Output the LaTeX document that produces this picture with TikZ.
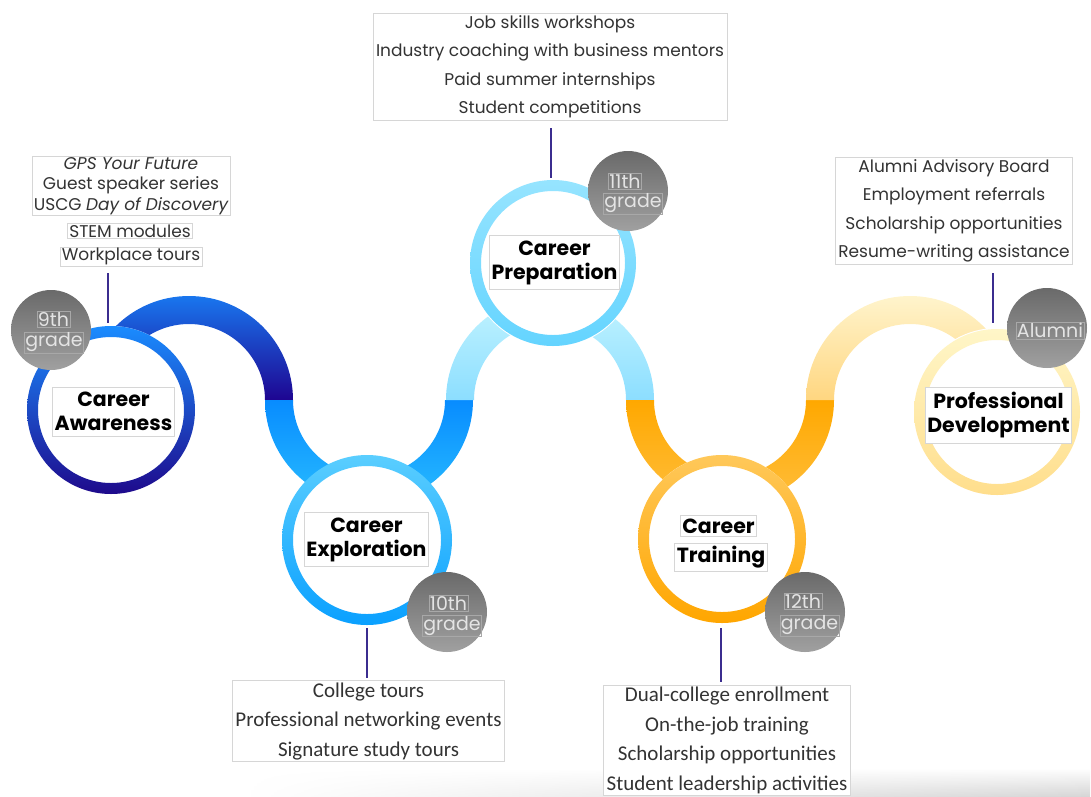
\documentclass[tikz,border=0pt]{standalone}
\usepackage{fontspec}
\setmainfont{Poppins}
\newfontfamily\listfont{Carlito}
\usetikzlibrary{fadings}
\definecolor{boxgray}{HTML}{D6D6D6}
\definecolor{conncol}{HTML}{3B2D8F}
\definecolor{badgetop}{HTML}{6A6A6A}
\definecolor{badgebot}{HTML}{A0A0A0}
\definecolor{badgetxt}{HTML}{E4E4E4}
\definecolor{badgebox}{HTML}{A8A8A8}
\definecolor{txt}{HTML}{333333}
\tikzfading[name=shadowfade, left color=transparent!100, right color=transparent!0]
\begin{document}
\begin{tikzpicture}[x=1pt,y=-1pt,
  title/.style={draw=boxgray, line width=0.7pt, fill=white, align=center,
    inner xsep=2pt, inner ysep=5pt, text=black,
    font=\bfseries\fontsize{20.5}{24}\selectfont},
  listbox/.style={draw=boxgray, line width=0.7pt, fill=white, align=center,
    inner xsep=3pt, inner ysep=2pt, text=txt},
  toplist/.style={listbox, font=\fontsize{17}{28.5}\selectfont},
  botlist/.style={listbox, font=\listfont\fontsize{21}{29.5}\selectfont},
  smalllist/.style={listbox, inner ysep=1pt, inner xsep=2pt, font=\fontsize{17}{20.5}\selectfont},
  badge/.style={circle, minimum size=80pt, inner sep=0pt, top color=badgetop, bottom color=badgebot},
  badgetext/.style={draw=badgebox, line width=0.6pt, inner xsep=1pt, inner ysep=1pt,
    text=badgetxt, font=\fontsize{19}{20}\selectfont},
  conn/.style={draw=conncol, line width=2.5pt}
]
\useasboundingbox (0,0) rectangle (1091,796);
% faint shadow at bottom
\shade[top color=white, bottom color=black!16, path fading=shadowfade] (240,768) rectangle (1091,796);

% ---------- bands ----------
% A (up) centre 189
\shade[top color={rgb,255:red,25;green,118;blue,238}, bottom color={rgb,255:red,30;green,5;blue,145}]
  (85,400) arc[start angle=180, end angle=360, radius=104] -- (265,400)
  arc[start angle=360, end angle=180, radius=76] -- cycle;
% B (down) centre 369
\shade[top color={rgb,255:red,8;green,140;blue,255}, bottom color={rgb,255:red,40;green,188;blue,255}]
  (265,400) arc[start angle=180, end angle=0, radius=104] -- (445,400)
  arc[start angle=0, end angle=180, radius=76] -- cycle;
% C (up) centre 550
\shade[top color={rgb,255:red,195;green,244;blue,255}, bottom color={rgb,255:red,140;green,222;blue,255}]
  (446,400) arc[start angle=180, end angle=360, radius=104] -- (626,400)
  arc[start angle=360, end angle=180, radius=76] -- cycle;
% D (down) centre 730
\shade[top color={rgb,255:red,255;green,168;blue,0}, bottom color={rgb,255:red,255;green,190;blue,60}]
  (626,400) arc[start angle=180, end angle=0, radius=104] -- (806,400)
  arc[start angle=0, end angle=180, radius=76] -- cycle;
% E (up) centre 910
\shade[top color={rgb,255:red,255;green,244;blue,204}, bottom color={rgb,255:red,255;green,214;blue,128}]
  (806,400) arc[start angle=180, end angle=360, radius=104] -- (986,400)
  arc[start angle=360, end angle=180, radius=76] -- cycle;

% ---------- circles ----------
\coordinate (cA) at (111,410);
\coordinate (cB) at (367,540);
\coordinate (cC) at (553,263);
\coordinate (cD) at (722,539);
\coordinate (cE) at (997,412);
\foreach \c in {cA,cB,cC,cD,cE} {\fill[white] (\c) circle[radius=84];}
\shade[even odd rule, top color={rgb,255:red,26;green,140;blue,255}, bottom color={rgb,255:red,30;green,10;blue,140}]
  (cA) circle[radius=84] (cA) circle[radius=73];
\shade[even odd rule, top color={rgb,255:red,90;green,206;blue,255}, bottom color={rgb,255:red,10;green,160;blue,255}]
  (cB) circle[radius=85] (cB) circle[radius=74];
\shade[even odd rule, top color={rgb,255:red,150;green,228;blue,255}, bottom color={rgb,255:red,100;green,212;blue,255}]
  (cC) circle[radius=83] (cC) circle[radius=72];
\shade[even odd rule, top color={rgb,255:red,255;green,200;blue,90}, bottom color={rgb,255:red,255;green,166;blue,0}]
  (cD) circle[radius=84] (cD) circle[radius=73];
\shade[even odd rule, top color={rgb,255:red,255;green,246;blue,200}, bottom color={rgb,255:red,255;green,222;blue,140}]
  (cE) circle[radius=83] (cE) circle[radius=72];

% ---------- badges ----------
\node[badge] (bA) at (51,330) {};
\node[badgetext] (bA1) at (53.5,319.5) {9th};
\node[badgetext] (bA2) at (54,342.5) {grade};
\node[badge] (bB) at (447,612) {};
\node[badgetext] (bB1) at (448.5,603.5) {10th};
\node[badgetext] (bB2) at (452,626) {grade};
\node[badge] (bC) at (628,191) {};
\node[badgetext] (bC1) at (625,181.5) {11th};
\node[badgetext] (bC2) at (633,203.5) {grade};
\node[badge] (bD) at (805,612) {};
\node[badgetext] (bD1) at (803,601.5) {12th};
\node[badgetext] (bD2) at (809.5,625.5) {grade};
\node[badge] (bE) at (1047,328) {};
\node[badgetext] (bE1) at (1050,330.5) {Alumni};

% ---------- titles ----------
\node[title] (tA) at (113.5,411.5) {Career\\Awareness};
\node[title] (tB) at (366.5,539.5) {Career\\Exploration};
\node[title] (tC) at (554.5,262.5) {Career\\Preparation};
\node[title, inner ysep=3pt] (tD1) at (718.5,526) {Career};
\node[title, inner ysep=3pt] (tD2) at (721,557.5) {Training};
\node[title] (tE) at (998.5,415.5) {Professional\\Development};

% ---------- lists ----------
\node[smalllist] (lA1) at (131,186) {\itshape GPS Your Future\\Guest speaker series\\USCG \itshape Day of Discovery};
\node[smalllist] (lA2) at (130,231) {STEM modules};
\node[smalllist] (lA3) at (131,256.5) {Workplace tours};
\node[toplist] (lC) at (550,66.5) {Job skills workshops\\Industry coaching with business mentors\\Paid summer internships\\Student competitions};
\node[toplist] (lE) at (954,211) {Alumni Advisory Board\\Employment referrals\\Scholarship opportunities\\Resume-writing assistance};
\node[botlist] (lB) at (368.5,721) {College tours\\Professional networking events\\Signature study tours};
\node[botlist] (lD) at (727,740.5) {Dual-college enrollment\\On-the-job training\\Scholarship opportunities\\Student leadership activities};

% ---------- connectors ----------
\coordinate (kA1) at (108,273); \coordinate (kA2) at (108,323);
\coordinate (kC1) at (551,128); \coordinate (kC2) at (551,178);
\coordinate (kE1) at (993,273); \coordinate (kE2) at (993,323);
\coordinate (kB1) at (367,628); \coordinate (kB2) at (367,678);
\coordinate (kD1) at (721,628); \coordinate (kD2) at (721,682);
\draw[conn] (kA1) -- (kA2);
\draw[conn] (kC1) -- (kC2);
\draw[conn] (kE1) -- (kE2);
\draw[conn] (kB1) -- (kB2);
\draw[conn] (kD1) -- (kD2);
\end{tikzpicture}
\end{document}
